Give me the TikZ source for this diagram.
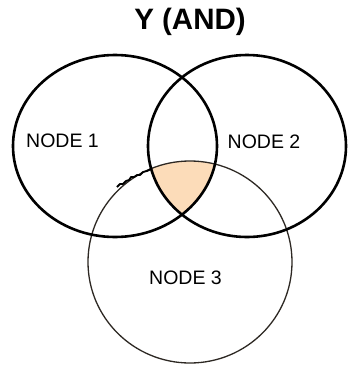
\documentclass[tikz,border=0pt]{standalone}
\usepackage{fontspec}
\setmainfont{Liberation Sans}
\definecolor{peach}{RGB}{252,220,185}
\definecolor{thinline}{RGB}{45,40,35}
\begin{document}
\begin{tikzpicture}[x=1pt,y=-1pt,
  thickring/.style={draw=black,line width=2.6pt},
  thinring/.style={draw=thinline,line width=1.3pt},
  lbl/.style={inner sep=0pt,font=\fontsize{19.5}{20}\selectfont},
  ttl/.style={inner sep=0pt,font=\fontsize{29.5}{31}\selectfont\bfseries}]
\useasboundingbox (0,0) rectangle (348,365);
\fill[white] (0,0) rectangle (348,365);
% triple intersection
\begin{scope}
  \clip (115,146) ellipse [x radius=102, y radius=91];
  \clip (247,146) ellipse [x radius=99, y radius=91];
  \fill[peach] (190,262) ellipse [x radius=102, y radius=101];
\end{scope}
\draw[thinring] (190,262) ellipse [x radius=102, y radius=101];
\draw[thickring] (115,146) ellipse [x radius=102, y radius=91];
\draw[thickring] (247,146) ellipse [x radius=99, y radius=91];
% jagged artifact
\draw[black,line width=1.8pt,line join=round]
  (117,187) -- (120,184) -- (123,184) -- (126,181) -- (129,180) -- (131,177)
  -- (134,177) -- (137,175) -- (140,175) -- (143,172) -- (147,171) -- (151,169);
\node[ttl] (title) at (190,22) {Y (AND)};
\node[lbl] (n1) at (62.5,141) {NODE 1};
\node[lbl] (n2) at (264,142) {NODE 2};
\node[lbl] (n3) at (185.5,278) {NODE 3};
\end{tikzpicture}
\end{document}
